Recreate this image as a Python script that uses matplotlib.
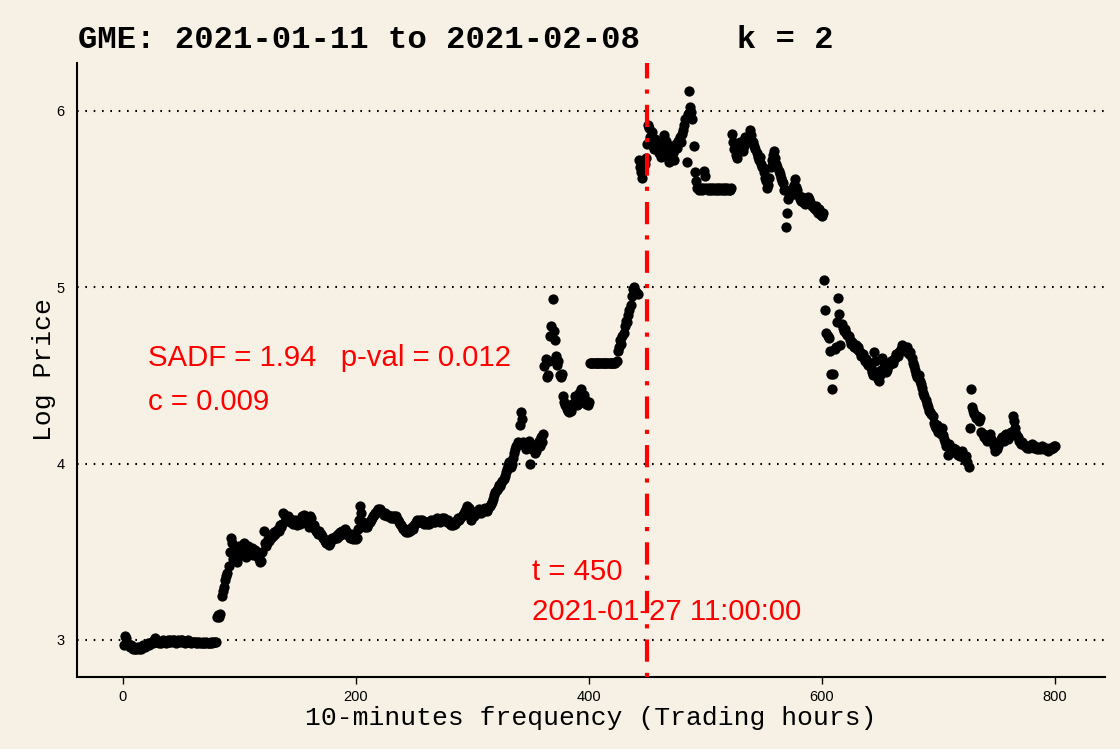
import matplotlib
matplotlib.use('Agg')
import matplotlib.pyplot as plt
import numpy as np

# log price, 10-minute bars
pre_jump = [2.97, 3.02, 3.01, 2.98, 2.97, 2.96, 2.97, 2.96, 2.95, 2.96, 2.95, 2.95, 2.96, 2.95, 2.96, 2.95, 2.96, 2.97, 2.96, 2.97,
            2.97, 2.98, 2.97, 2.98, 2.99, 2.98, 3.00, 3.01, 3.00, 2.99, 2.98, 2.99, 2.98, 2.99, 3.00, 2.99, 2.98, 2.99, 3.00, 2.99,
            3.00, 2.99, 3.00, 3.00, 2.99, 2.98, 2.99, 3.00, 2.99, 3.00, 3.00, 2.99, 2.99, 2.98, 2.99, 3.00, 2.99, 2.99, 2.98, 2.99,
            2.99, 2.99, 2.98, 2.99, 2.98, 2.99, 2.98, 2.98, 2.99, 2.98, 2.98, 2.99, 2.98, 2.98, 2.98, 2.99, 2.98, 2.99, 2.99, 2.99]

first_rally = [3.13, 3.14, 3.13, 3.15, 3.25, 3.28, 3.30, 3.34, 3.36, 3.38, 3.42, 3.50, 3.58, 3.55, 3.46, 3.49, 3.52, 3.44, 3.48, 3.53,
               3.50, 3.48, 3.52, 3.55, 3.50, 3.47, 3.51, 3.53, 3.49, 3.50, 3.52, 3.48, 3.50, 3.51, 3.49, 3.47, 3.46, 3.44, 3.45, 3.50,
               3.62, 3.55, 3.53, 3.55, 3.57, 3.56, 3.58, 3.60, 3.59, 3.61, 3.60, 3.62, 3.63, 3.62, 3.65, 3.64, 3.66, 3.72, 3.70, 3.69,
               3.68, 3.70, 3.69, 3.67, 3.68, 3.66, 3.67, 3.68, 3.66, 3.65, 3.67, 3.66, 3.68, 3.70, 3.69, 3.71, 3.70, 3.68, 3.66, 3.64,
               3.70, 3.69, 3.66, 3.65, 3.63, 3.62, 3.61, 3.60, 3.62, 3.60, 3.59, 3.58, 3.57, 3.56, 3.55, 3.56, 3.54, 3.55, 3.57, 3.58,
               3.57, 3.58, 3.59, 3.58, 3.60, 3.59, 3.61, 3.62, 3.60, 3.61, 3.63, 3.62, 3.60, 3.59, 3.58, 3.60, 3.58, 3.57, 3.58, 3.57,
               3.58, 3.63, 3.68, 3.76, 3.72, 3.67, 3.66, 3.64, 3.65, 3.64, 3.66, 3.67, 3.68, 3.69, 3.70, 3.71, 3.72, 3.73, 3.74, 3.73,
               3.74, 3.73, 3.72, 3.71, 3.72, 3.71, 3.70, 3.71, 3.70, 3.69, 3.70, 3.69, 3.70, 3.69, 3.70, 3.68, 3.67, 3.66, 3.65, 3.64,
               3.63, 3.62, 3.61, 3.62, 3.61, 3.63, 3.62, 3.64, 3.63, 3.65, 3.66, 3.67, 3.68, 3.67, 3.68, 3.67, 3.68, 3.67, 3.66, 3.67,
               3.66, 3.67, 3.66, 3.67, 3.68, 3.67, 3.68, 3.67, 3.68, 3.69, 3.68, 3.67, 3.68, 3.69, 3.68, 3.69, 3.68, 3.67, 3.68, 3.67,
               3.66, 3.65, 3.66, 3.65, 3.66, 3.67, 3.68, 3.69, 3.68, 3.69, 3.70, 3.71, 3.72, 3.73, 3.74, 3.76, 3.75, 3.70, 3.68, 3.70,
               3.71, 3.70, 3.72, 3.73, 3.72, 3.74, 3.73, 3.72, 3.74, 3.73, 3.75, 3.74, 3.73, 3.75, 3.76, 3.77, 3.78, 3.80, 3.82, 3.84,
               3.85, 3.86, 3.88, 3.87, 3.89, 3.90, 3.91, 3.93, 3.95, 3.97, 3.99, 4.01, 3.98, 4.00, 4.03, 4.06, 4.08, 4.10, 4.12, 4.11]

squeeze_build = [4.22, 4.29, 4.25, 4.12, 4.10, 4.08, 4.11, 4.10, 4.13, 4.00, 4.08, 4.10, 4.09, 4.06, 4.07, 4.11, 4.13, 4.10, 4.15, 4.12,
                 4.17, 4.55, 4.59, 4.49, 4.50, 4.58, 4.72, 4.78, 4.93, 4.75, 4.70, 4.61, 4.56, 4.58, 4.50, 4.49, 4.51, 4.38, 4.35, 4.33,
                 4.31, 4.30, 4.29, 4.32, 4.30, 4.34, 4.33, 4.38, 4.36, 4.33, 4.34, 4.40, 4.42, 4.38, 4.37, 4.39, 4.36, 4.34, 4.33, 4.35,
                 4.57, 4.57, 4.57, 4.57, 4.57, 4.57, 4.57, 4.57, 4.57, 4.57, 4.57, 4.57, 4.57, 4.57, 4.57, 4.57, 4.57, 4.57, 4.57, 4.57,
                 4.57, 4.57, 4.57, 4.58, 4.64, 4.66, 4.70, 4.68, 4.72, 4.74, 4.78, 4.81, 4.80, 4.84, 4.87, 4.90, 4.95, 4.99, 5.00, 4.98,
                 4.97, 4.96]

peak = [5.72, 5.68, 5.65, 5.62, 5.66, 5.70, 5.73, 5.81, 5.92, 5.90, 5.85, 5.88, 5.80, 5.78, 5.84, 5.82, 5.79, 5.76,
        5.80, 5.74, 5.78, 5.82, 5.86, 5.83, 5.79, 5.75, 5.71, 5.77, 5.80, 5.76, 5.72, 5.78, 5.81, 5.79, 5.83, 5.85, 5.82, 5.87,
        5.89, 5.92, 5.95, 5.71, 5.98, 6.11, 6.02, 5.99, 5.95, 5.80, 5.65, 5.60, 5.56, 5.56, 5.55, 5.56, 5.55, 5.56, 5.66, 5.63,
        5.56, 5.55, 5.56, 5.55, 5.56, 5.55, 5.56, 5.55, 5.56, 5.55, 5.56, 5.55, 5.56, 5.55, 5.56, 5.55, 5.56, 5.55, 5.56, 5.55,
        5.55, 5.56, 5.87, 5.82, 5.78, 5.75, 5.73, 5.78, 5.80, 5.82, 5.79, 5.77, 5.80, 5.85, 5.83, 5.82, 5.84, 5.89, 5.86, 5.83,
        5.82, 5.80, 5.78, 5.76, 5.74, 5.72, 5.74, 5.70, 5.68, 5.65, 5.62, 5.60, 5.56, 5.58, 5.62, 5.68, 5.72, 5.75, 5.77, 5.73,
        5.70, 5.68, 5.66, 5.64, 5.62, 5.60, 5.59, 5.55, 5.34, 5.42, 5.50, 5.53, 5.55, 5.52, 5.56, 5.58, 5.61, 5.57, 5.55, 5.52,
        5.50, 5.49, 5.51, 5.48, 5.50, 5.47, 5.49, 5.51, 5.50, 5.48, 5.47, 5.46, 5.45, 5.44, 5.46, 5.43, 5.42, 5.44, 5.41, 5.40,
        5.42]

decline = [5.04, 4.87, 4.74, 4.72, 4.71, 4.64, 4.51, 4.42, 4.51, 4.65, 4.66, 4.80, 4.94, 4.85, 4.67, 4.79, 4.77, 4.75, 4.76,
           4.74, 4.73, 4.72, 4.70, 4.68, 4.69, 4.67, 4.66, 4.67, 4.65, 4.66, 4.64, 4.63, 4.61, 4.62, 4.60, 4.58, 4.59, 4.57, 4.56,
           4.55, 4.54, 4.52, 4.50, 4.63, 4.58, 4.52, 4.48, 4.47, 4.50, 4.53, 4.60, 4.57, 4.54, 4.52, 4.53, 4.55, 4.56, 4.58, 4.57,
           4.57, 4.59, 4.60, 4.62, 4.61, 4.63, 4.64, 4.65, 4.67, 4.66, 4.64, 4.65, 4.66, 4.63, 4.62, 4.63, 4.60, 4.57, 4.55, 4.53,
           4.51, 4.49, 4.50, 4.47, 4.45, 4.43, 4.40, 4.38, 4.36, 4.34, 4.32, 4.30, 4.29, 4.28, 4.27, 4.23, 4.21, 4.20, 4.22, 4.18,
           4.19, 4.17, 4.20, 4.16, 4.14, 4.12, 4.10, 4.05, 4.11, 4.09, 4.08, 4.07, 4.09, 4.08, 4.06, 4.07, 4.05, 4.06, 4.04, 4.07,
           4.05, 4.03, 4.02, 4.04, 4.01, 3.98, 4.20, 4.42, 4.32, 4.30, 4.28, 4.26, 4.27, 4.25, 4.24, 4.26, 4.18, 4.17, 4.15, 4.16,
           4.14, 4.13, 4.15, 4.17, 4.14, 4.13, 4.12, 4.10, 4.07, 4.08, 4.10, 4.12, 4.13, 4.14, 4.15, 4.13, 4.16, 4.17, 4.15, 4.14,
           4.17, 4.18, 4.16, 4.27, 4.24, 4.20, 4.17, 4.15, 4.13, 4.12, 4.11, 4.12, 4.11, 4.10, 4.10, 4.09, 4.10, 4.09, 4.10, 4.11,
           4.10, 4.09, 4.10, 4.09, 4.08, 4.09, 4.08, 4.09, 4.10, 4.09, 4.08, 4.09, 4.08, 4.07, 4.08, 4.09, 4.08, 4.09, 4.10, 4.10]

log_price = np.array(pre_jump + first_rally + squeeze_build + peak + decline)
t = np.arange(1, len(log_price) + 1)

t_star = 450
sadf, pval, c_val = 1.94, 0.012, 0.009
t_star_date = '2021-01-27 11:00:00'
x_ticks = [0, 200, 400, 600, 800]
y_ticks = [3, 4, 5, 6]

bg = '#f6f1e4'
mono = 'Liberation Mono'
sans = ['Liberation Sans', 'DejaVu Sans']

plt.rcParams['lines.scale_dashes'] = False
fig = plt.figure(figsize=(11.2, 7.49), dpi=100, facecolor=bg)
ax = fig.add_axes([0.0688, 0.0961, 0.9178, 0.8198], facecolor=bg)

for v in y_ticks:
    ax.axhline(v, color='black', lw=1.5, linestyle=(0, (1.2, 4.8)), zorder=1)

ax.plot(t, log_price, 'o', color='black', markersize=7.4, markeredgewidth=0, zorder=3)

red_line = ax.axvline(t_star, color='#ff0000', lw=3, zorder=4)
red_line.set_dashes((3, 8, 16, 8))
red_line.set_dash_capstyle('butt')

ann = dict(color='#ff0000', fontsize=21.2, family=sans, va='center', ha='left')
ax.text(22, 4.60, f'SADF = {sadf}   p-val = {pval}', **ann)
ax.text(22, 4.35, f'c = {c_val}', **ann)
ax.text(351, 3.385, f't = {t_star}', **ann)
ax.text(351, 3.16, t_star_date, **ann)

ax.set_xlim(-39, 843)
ax.set_ylim(2.79, 6.27)
ax.set_xticks(x_ticks)
ax.set_yticks(y_ticks)
ax.tick_params(axis='x', length=5, width=1, pad=4, labelsize=10.5)
ax.tick_params(axis='y', length=0, pad=9, labelsize=10.5)
for lab in ax.get_xticklabels() + ax.get_yticklabels():
    lab.set_family(sans)

for side in ['top', 'right']:
    ax.spines[side].set_visible(False)
for side in ['left', 'bottom']:
    ax.spines[side].set_linewidth(1.5)

ax.set_xlabel('10-minutes frequency (Trading hours)', family=mono, fontsize=19, labelpad=2)
ax.set_ylabel('Log Price', family=mono, fontsize=19, labelpad=0)

fig.text(0.0696, 0.9466, 'GME: 2021-01-11 to 2021-02-08     k = 2', family=mono,
         fontweight='bold', fontsize=23.2, va='center', ha='left')

fig.savefig('out.png', dpi=100, facecolor=bg)
